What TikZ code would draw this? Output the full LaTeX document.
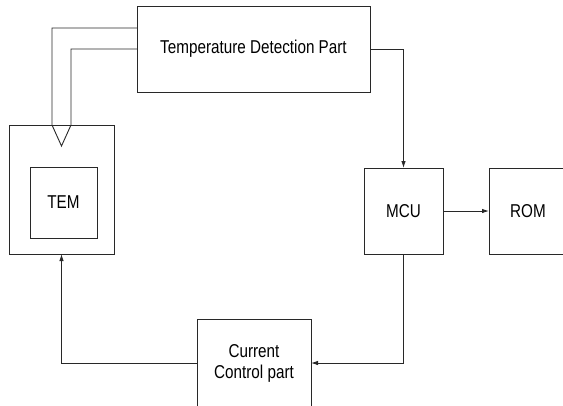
\documentclass[tikz,border=0pt]{standalone}
\usepackage{fontspec}
\newfontfamily\blockfont[FakeStretch=0.82]{Liberation Sans}
\usepackage{tikz}
\usetikzlibrary{arrows.meta,positioning,calc}
\definecolor{linecol}{RGB}{40,40,40}

\begin{document}
\begin{tikzpicture}[
      x=1pt,y=-1pt,
      block/.style={draw=linecol,line width=0.9pt,inner sep=0pt,outer sep=0pt,align=center,
                    font=\blockfont\fontsize{18.6}{21}\selectfont},
      wire/.style={draw=linecol,line width=0.9pt},
      arr/.style={wire,-{Latex[length=7pt,width=4.5pt]}}
    ]
      \useasboundingbox (0,0) rectangle (563,405);
      \clip (0,0) rectangle (563,405);
      % Blocks
      \node[block,minimum width=233,minimum height=86] (tdp) at (253.5,49) {Temperature Detection Part};
      \node[block,minimum width=105,minimum height=129] (temout) at (61.5,189.5) {};
      \node[block,minimum width=67,minimum height=71] (tem) at (63.5,202.5) {TEM};
      \node[block,minimum width=79,minimum height=86] (mcu) at (403.5,211) {MCU};
      \node[block,minimum width=78,minimum height=86] (rom) at (528,211) {ROM};
      \node[block,minimum width=114,minimum height=88] (ccp) at (254,363) {Current\\Control part};
      % Sensor probe from the detection part into the TEM housing
      \coordinate (probeA) at (137,28);
      \coordinate (probeB) at (137,49);
      \coordinate (tip) at (61.5,146);
      \draw[wire] (probeA) -| (52,125) -- (tip) -- (71,125) |- (probeB);
      % Signal flow
      \draw[arr] (tdp.east) -| (mcu.north);
      \draw[arr] (mcu.east) -- (rom.west);
      \draw[arr] (mcu.south) |- (ccp.east);
      \draw[arr] (ccp.west) -| (temout.south);
    \end{tikzpicture}
\end{document}
